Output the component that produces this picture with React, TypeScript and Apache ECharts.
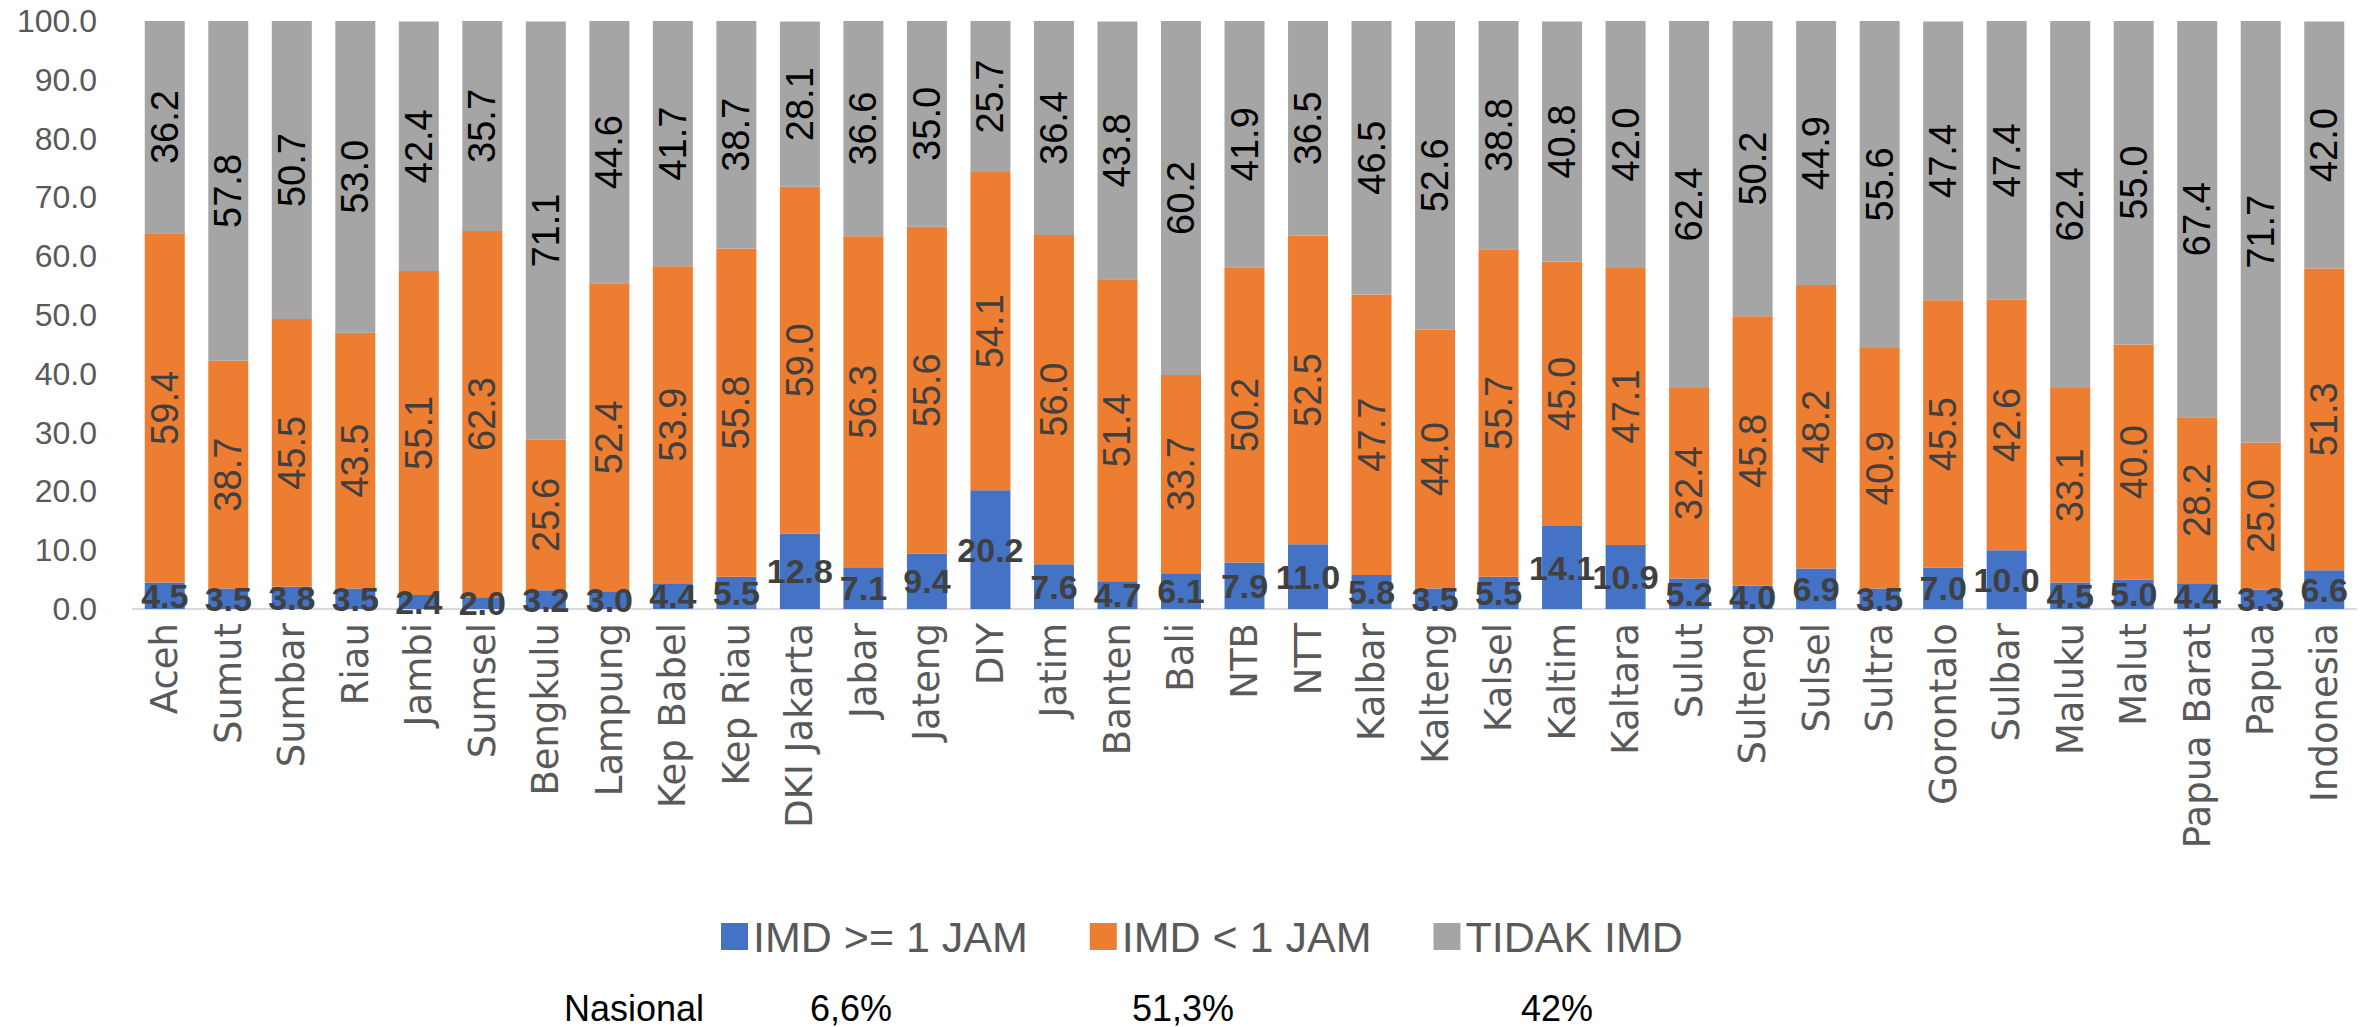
import React, { useEffect, useRef } from "react";
import * as echarts from "echarts";

const categories = [
  "Aceh", "Sumut", "Sumbar", "Riau", "Jambi", "Sumsel", "Bengkulu", "Lampung", "Kep Babel", "Kep Riau",
  "DKI Jakarta", "Jabar", "Jateng", "DIY", "Jatim", "Banten", "Bali", "NTB", "NTT", "Kalbar",
  "Kalteng", "Kalsel", "Kaltim", "Kaltara", "Sulut", "Sulteng", "Sulsel", "Sultra", "Gorontalo", "Sulbar",
  "Maluku", "Malut", "Papua Barat", "Papua", "Indonesia",
];

const imdAtLeast1 = [
  4.5, 3.5, 3.8, 3.5, 2.4, 2.0, 3.2, 3.0, 4.4, 5.5,
  12.8, 7.1, 9.4, 20.2, 7.6, 4.7, 6.1, 7.9, 11.0, 5.8,
  3.5, 5.5, 14.1, 10.9, 5.2, 4.0, 6.9, 3.5, 7.0, 10.0,
  4.5, 5.0, 4.4, 3.3, 6.6,
];

const imdLess1 = [
  59.4, 38.7, 45.5, 43.5, 55.1, 62.3, 25.6, 52.4, 53.9, 55.8,
  59.0, 56.3, 55.6, 54.1, 56.0, 51.4, 33.7, 50.2, 52.5, 47.7,
  44.0, 55.7, 45.0, 47.1, 32.4, 45.8, 48.2, 40.9, 45.5, 42.6,
  33.1, 40.0, 28.2, 25.0, 51.3,
];

const tidakImd = [
  36.2, 57.8, 50.7, 53.0, 42.4, 35.7, 71.1, 44.6, 41.7, 38.7,
  28.1, 36.6, 35.0, 25.7, 36.4, 43.8, 60.2, 41.9, 36.5, 46.5,
  52.6, 38.8, 40.8, 42.0, 62.4, 50.2, 44.9, 55.6, 47.4, 47.4,
  62.4, 55.0, 67.4, 71.7, 42.0,
];

const seriesNames = ["IMD >= 1 JAM", "IMD < 1 JAM", "TIDAK IMD"];
const nationalLabel = "Nasional";
const nationalValues = ["6,6%", "51,3%", "42%"];

const FONT = "'Liberation Sans', Arial, sans-serif";

export default function App() {
  const ref = useRef<HTMLDivElement>(null);

  useEffect(() => {
    document.body.style.margin = "0";
    if (!ref.current) return;
    const chart = echarts.init(ref.current, undefined, { renderer: "svg" });
    const fmt = (p: any) => Number(p.value).toFixed(1);
    chart.setOption({
      animation: false,
      backgroundColor: "#ffffff",
      textStyle: { fontFamily: FONT },
      grid: { left: 133, right: 15, top: 21, bottom: 1027 - 609, containLabel: false },
      legend: {
        left: 716,
        top: 910,
        itemWidth: 27,
        itemHeight: 27,
        itemGap: 62,
        icon: "rect",
        textStyle: { fontSize: 43, color: "#595959", fontFamily: FONT, padding: [0, 0, 0, 0] },
        data: seriesNames,
      },
      xAxis: {
        type: "category",
        data: categories,
        axisLine: { show: true, lineStyle: { color: "#d9d9d9", width: 2 } },
        axisTick: { show: false },
        axisLabel: {
          rotate: 90,
          interval: 0,
          margin: 14,
          fontSize: 37,
          color: "#595959",
          fontFamily: "'DejaVu Sans', sans-serif",
        },
      },
      yAxis: {
        type: "value",
        min: 0,
        max: 100,
        interval: 10,
        splitLine: { show: false },
        axisLine: { show: false },
        axisTick: { show: false },
        axisLabel: {
          margin: 36,
          fontSize: 32,
          color: "#595959",
          formatter: (v: number) => v.toFixed(1),
        },
      },
      series: [
        {
          name: seriesNames[0],
          type: "bar",
          stack: "total",
          barWidth: 40,
          data: imdAtLeast1,
          itemStyle: { color: "#4472C4" },
          label: {
            show: true,
            position: "inside",
            formatter: fmt,
            fontSize: 34,
            fontWeight: "bold",
            color: "#404040",
          },
        },
        {
          name: seriesNames[1],
          type: "bar",
          stack: "total",
          barWidth: 40,
          data: imdLess1,
          itemStyle: { color: "#ED7D31" },
          label: {
            show: true,
            position: "inside",
            rotate: 90,
            formatter: fmt,
            fontSize: 38,
            color: "#404040",
          },
        },
        {
          name: seriesNames[2],
          type: "bar",
          stack: "total",
          barWidth: 40,
          data: tidakImd,
          itemStyle: { color: "#A5A5A5" },
          label: {
            show: true,
            position: "inside",
            rotate: 90,
            formatter: fmt,
            fontSize: 38,
            color: "#000000",
          },
        },
      ],
      graphic: [
        {
          type: "text",
          left: 564,
          top: 990,
          style: { text: nationalLabel, fontSize: 36, fill: "#000", fontFamily: FONT },
        },
        {
          type: "text",
          left: 810,
          top: 990,
          style: { text: nationalValues[0], fontSize: 36, fill: "#000", fontFamily: FONT },
        },
        {
          type: "text",
          left: 1132,
          top: 990,
          style: { text: nationalValues[1], fontSize: 36, fill: "#000", fontFamily: FONT },
        },
        {
          type: "text",
          left: 1521,
          top: 990,
          style: { text: nationalValues[2], fontSize: 36, fill: "#000", fontFamily: FONT },
        },
      ],
    });
    return () => chart.dispose();
  }, []);

  return <div ref={ref} style={{ width: 2371, height: 1027 }} />;
}
